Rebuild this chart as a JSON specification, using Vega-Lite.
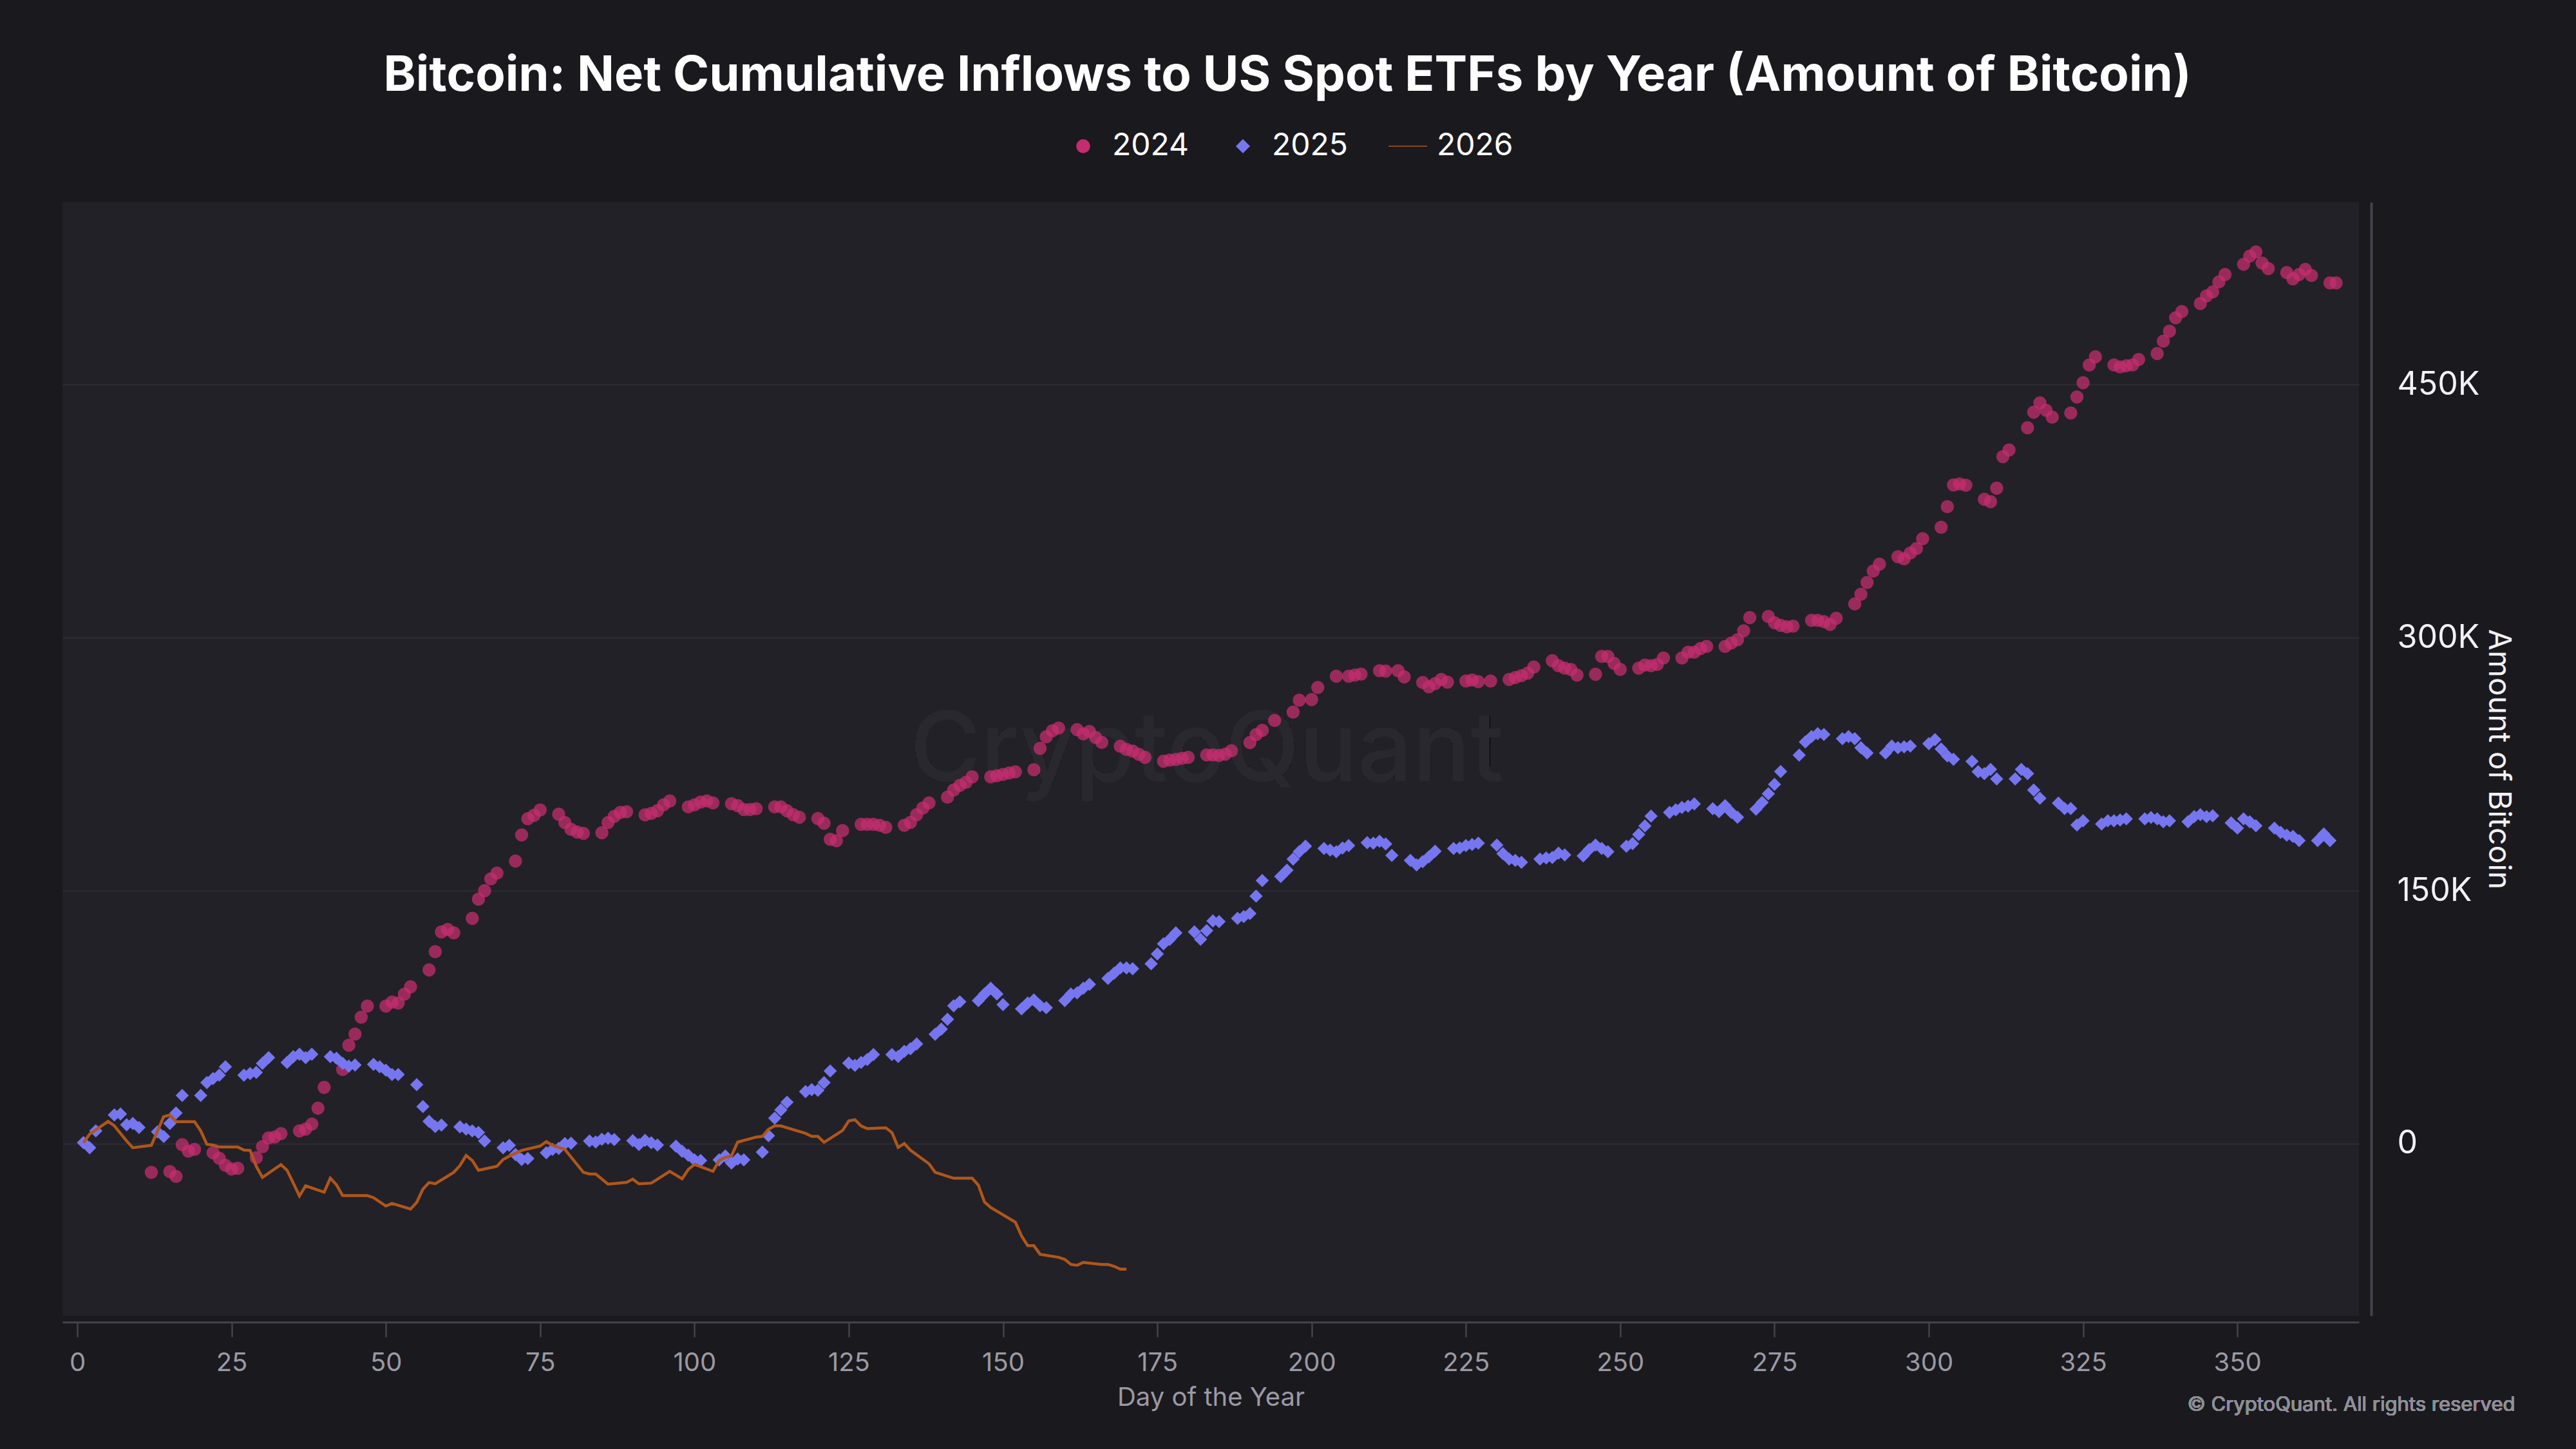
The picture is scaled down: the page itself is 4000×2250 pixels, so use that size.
{
  "$schema": "https://vega.github.io/schema/vega-lite/v6.json",
  "description": "Bitcoin net cumulative inflows to US spot ETFs, by day of year, for 2024, 2025 and 2026",
  "width": 3566,
  "height": 1729,
  "autosize": {"type": "none"},
  "padding": {"left": 97, "top": 314, "right": 337, "bottom": 207},
  "background": "#1a191e",
  "title": {
    "text": "Bitcoin: Net Cumulative Inflows to US Spot ETFs by Year (Amount of Bitcoin)",
    "anchor": "middle",
    "font": "Inter",
    "fontSize": 76,
    "fontWeight": 700,
    "color": "#ffffff",
    "offset": 46,
    "dx": 119
  },
  "data": {
    "values": [
      {"day":12,"year":"2024","btc":-17000},{"day":15,"year":"2024","btc":-16600},{"day":16,"year":"2024","btc":-19400},{"day":17,"year":"2024","btc":-600},{"day":18,"year":"2024","btc":-4400},{"day":19,"year":"2024","btc":-3400},{"day":22,"year":"2024","btc":-5400},{"day":23,"year":"2024","btc":-8600},{"day":24,"year":"2024","btc":-12800},{"day":25,"year":"2024","btc":-15000},{"day":26,"year":"2024","btc":-14600},{"day":29,"year":"2024","btc":-8400},{"day":30,"year":"2024","btc":-1800},{"day":31,"year":"2024","btc":3400},{"day":32,"year":"2024","btc":4000},{"day":33,"year":"2024","btc":6000},{"day":36,"year":"2024","btc":7600},{"day":37,"year":"2024","btc":8600},{"day":38,"year":"2024","btc":11600},{"day":39,"year":"2024","btc":21000},{"day":40,"year":"2024","btc":33400},{"day":43,"year":"2024","btc":44000},{"day":44,"year":"2024","btc":58400},{"day":45,"year":"2024","btc":65000},{"day":46,"year":"2024","btc":75000},{"day":47,"year":"2024","btc":81600},{"day":50,"year":"2024","btc":81600},{"day":51,"year":"2024","btc":84000},{"day":52,"year":"2024","btc":83400},{"day":53,"year":"2024","btc":88600},{"day":54,"year":"2024","btc":93000},{"day":57,"year":"2024","btc":103000},{"day":58,"year":"2024","btc":113800},{"day":59,"year":"2024","btc":125600},{"day":60,"year":"2024","btc":127000},{"day":61,"year":"2024","btc":125000},{"day":64,"year":"2024","btc":133600},{"day":65,"year":"2024","btc":145000},{"day":66,"year":"2024","btc":150000},{"day":67,"year":"2024","btc":157000},{"day":68,"year":"2024","btc":160400},{"day":71,"year":"2024","btc":167600},{"day":72,"year":"2024","btc":183000},{"day":73,"year":"2024","btc":192700},{"day":74,"year":"2024","btc":194700},{"day":75,"year":"2024","btc":197800},{"day":78,"year":"2024","btc":195400},{"day":79,"year":"2024","btc":190400},{"day":80,"year":"2024","btc":186400},{"day":81,"year":"2024","btc":184800},{"day":82,"year":"2024","btc":184000},{"day":85,"year":"2024","btc":184400},{"day":86,"year":"2024","btc":190400},{"day":87,"year":"2024","btc":194000},{"day":88,"year":"2024","btc":196400},{"day":89,"year":"2024","btc":196800},{"day":92,"year":"2024","btc":195000},{"day":93,"year":"2024","btc":195800},{"day":94,"year":"2024","btc":197400},{"day":95,"year":"2024","btc":200900},{"day":96,"year":"2024","btc":203200},{"day":99,"year":"2024","btc":199700},{"day":100,"year":"2024","btc":200900},{"day":101,"year":"2024","btc":202500},{"day":102,"year":"2024","btc":203200},{"day":103,"year":"2024","btc":202000},{"day":106,"year":"2024","btc":201600},{"day":107,"year":"2024","btc":200400},{"day":108,"year":"2024","btc":198100},{"day":109,"year":"2024","btc":198100},{"day":110,"year":"2024","btc":198600},{"day":113,"year":"2024","btc":199700},{"day":114,"year":"2024","btc":199700},{"day":115,"year":"2024","btc":197400},{"day":116,"year":"2024","btc":195100},{"day":117,"year":"2024","btc":193500},{"day":120,"year":"2024","btc":192800},{"day":121,"year":"2024","btc":190000},{"day":122,"year":"2024","btc":180500},{"day":123,"year":"2024","btc":179600},{"day":124,"year":"2024","btc":185600},{"day":127,"year":"2024","btc":189300},{"day":128,"year":"2024","btc":189300},{"day":129,"year":"2024","btc":189300},{"day":130,"year":"2024","btc":188800},{"day":131,"year":"2024","btc":187500},{"day":134,"year":"2024","btc":188800},{"day":135,"year":"2024","btc":190500},{"day":136,"year":"2024","btc":195100},{"day":137,"year":"2024","btc":199000},{"day":138,"year":"2024","btc":202000},{"day":141,"year":"2024","btc":205500},{"day":142,"year":"2024","btc":209700},{"day":143,"year":"2024","btc":212400},{"day":144,"year":"2024","btc":214300},{"day":145,"year":"2024","btc":217500},{"day":148,"year":"2024","btc":217500},{"day":149,"year":"2024","btc":218200},{"day":150,"year":"2024","btc":218900},{"day":151,"year":"2024","btc":219800},{"day":152,"year":"2024","btc":220500},{"day":155,"year":"2024","btc":221700},{"day":156,"year":"2024","btc":234400},{"day":157,"year":"2024","btc":241300},{"day":158,"year":"2024","btc":244800},{"day":159,"year":"2024","btc":246400},{"day":162,"year":"2024","btc":245500},{"day":163,"year":"2024","btc":243000},{"day":164,"year":"2024","btc":244400},{"day":165,"year":"2024","btc":240900},{"day":166,"year":"2024","btc":237900},{"day":169,"year":"2024","btc":235600},{"day":170,"year":"2024","btc":233700},{"day":171,"year":"2024","btc":232800},{"day":172,"year":"2024","btc":230900},{"day":173,"year":"2024","btc":229100},{"day":176,"year":"2024","btc":226800},{"day":177,"year":"2024","btc":227400},{"day":178,"year":"2024","btc":227800},{"day":179,"year":"2024","btc":228500},{"day":180,"year":"2024","btc":229100},{"day":183,"year":"2024","btc":230500},{"day":184,"year":"2024","btc":230500},{"day":185,"year":"2024","btc":230200},{"day":186,"year":"2024","btc":231000},{"day":187,"year":"2024","btc":233000},{"day":190,"year":"2024","btc":237800},{"day":191,"year":"2024","btc":242500},{"day":192,"year":"2024","btc":245100},{"day":194,"year":"2024","btc":250900},{"day":197,"year":"2024","btc":255900},{"day":198,"year":"2024","btc":262900},{"day":200,"year":"2024","btc":263300},{"day":201,"year":"2024","btc":270500},{"day":204,"year":"2024","btc":277200},{"day":206,"year":"2024","btc":277200},{"day":207,"year":"2024","btc":277800},{"day":208,"year":"2024","btc":278400},{"day":211,"year":"2024","btc":280400},{"day":212,"year":"2024","btc":280200},{"day":214,"year":"2024","btc":280400},{"day":215,"year":"2024","btc":276800},{"day":218,"year":"2024","btc":273400},{"day":219,"year":"2024","btc":270900},{"day":220,"year":"2024","btc":272800},{"day":221,"year":"2024","btc":275300},{"day":222,"year":"2024","btc":273600},{"day":225,"year":"2024","btc":274300},{"day":226,"year":"2024","btc":274900},{"day":227,"year":"2024","btc":273900},{"day":229,"year":"2024","btc":274300},{"day":232,"year":"2024","btc":275300},{"day":233,"year":"2024","btc":276400},{"day":234,"year":"2024","btc":277500},{"day":235,"year":"2024","btc":279000},{"day":236,"year":"2024","btc":282600},{"day":239,"year":"2024","btc":286300},{"day":240,"year":"2024","btc":283400},{"day":241,"year":"2024","btc":281900},{"day":242,"year":"2024","btc":281200},{"day":243,"year":"2024","btc":277800},{"day":246,"year":"2024","btc":278300},{"day":247,"year":"2024","btc":288900},{"day":248,"year":"2024","btc":288900},{"day":249,"year":"2024","btc":284800},{"day":250,"year":"2024","btc":281200},{"day":253,"year":"2024","btc":281900},{"day":254,"year":"2024","btc":283800},{"day":255,"year":"2024","btc":283400},{"day":256,"year":"2024","btc":284100},{"day":257,"year":"2024","btc":288000},{"day":260,"year":"2024","btc":288000},{"day":261,"year":"2024","btc":291400},{"day":262,"year":"2024","btc":291400},{"day":263,"year":"2024","btc":293600},{"day":264,"year":"2024","btc":294800},{"day":267,"year":"2024","btc":294800},{"day":268,"year":"2024","btc":296800},{"day":269,"year":"2024","btc":298700},{"day":270,"year":"2024","btc":304100},{"day":271,"year":"2024","btc":311900},{"day":274,"year":"2024","btc":312600},{"day":275,"year":"2024","btc":308900},{"day":276,"year":"2024","btc":307300},{"day":277,"year":"2024","btc":306500},{"day":278,"year":"2024","btc":306900},{"day":281,"year":"2024","btc":310300},{"day":282,"year":"2024","btc":310300},{"day":283,"year":"2024","btc":309500},{"day":284,"year":"2024","btc":307800},{"day":285,"year":"2024","btc":311500},{"day":288,"year":"2024","btc":320000},{"day":289,"year":"2024","btc":325800},{"day":290,"year":"2024","btc":332700},{"day":291,"year":"2024","btc":339500},{"day":292,"year":"2024","btc":343600},{"day":295,"year":"2024","btc":348000},{"day":296,"year":"2024","btc":346800},{"day":297,"year":"2024","btc":350200},{"day":298,"year":"2024","btc":352900},{"day":299,"year":"2024","btc":358700},{"day":302,"year":"2024","btc":365500},{"day":303,"year":"2024","btc":377700},{"day":304,"year":"2024","btc":390600},{"day":305,"year":"2024","btc":391100},{"day":306,"year":"2024","btc":390400},{"day":309,"year":"2024","btc":382100},{"day":310,"year":"2024","btc":380600},{"day":311,"year":"2024","btc":388700},{"day":312,"year":"2024","btc":407400},{"day":313,"year":"2024","btc":411300},{"day":316,"year":"2024","btc":424500},{"day":317,"year":"2024","btc":433700},{"day":318,"year":"2024","btc":439300},{"day":319,"year":"2024","btc":434900},{"day":320,"year":"2024","btc":430800},{"day":323,"year":"2024","btc":433200},{"day":324,"year":"2024","btc":442700},{"day":325,"year":"2024","btc":451200},{"day":326,"year":"2024","btc":461700},{"day":327,"year":"2024","btc":466600},{"day":330,"year":"2024","btc":461700},{"day":331,"year":"2024","btc":460500},{"day":332,"year":"2024","btc":461200},{"day":333,"year":"2024","btc":461700},{"day":334,"year":"2024","btc":464900},{"day":337,"year":"2024","btc":468500},{"day":338,"year":"2024","btc":475800},{"day":339,"year":"2024","btc":481700},{"day":340,"year":"2024","btc":489700},{"day":341,"year":"2024","btc":493400},{"day":344,"year":"2024","btc":498200},{"day":345,"year":"2024","btc":502600},{"day":346,"year":"2024","btc":505000},{"day":347,"year":"2024","btc":510900},{"day":348,"year":"2024","btc":515300},{"day":351,"year":"2024","btc":521400},{"day":352,"year":"2024","btc":526200},{"day":353,"year":"2024","btc":528700},{"day":354,"year":"2024","btc":522100},{"day":355,"year":"2024","btc":518900},{"day":358,"year":"2024","btc":516500},{"day":359,"year":"2024","btc":512800},{"day":360,"year":"2024","btc":515300},{"day":361,"year":"2024","btc":518400},{"day":362,"year":"2024","btc":514800},{"day":365,"year":"2024","btc":510400},{"day":366,"year":"2024","btc":510400},
      {"day":1,"year":"2025","btc":600},{"day":2,"year":"2025","btc":-2400},{"day":3,"year":"2025","btc":7600},{"day":6,"year":"2025","btc":17000},{"day":7,"year":"2025","btc":17600},{"day":8,"year":"2025","btc":11200},{"day":9,"year":"2025","btc":12000},{"day":10,"year":"2025","btc":9600},{"day":13,"year":"2025","btc":7000},{"day":14,"year":"2025","btc":4200},{"day":15,"year":"2025","btc":12000},{"day":16,"year":"2025","btc":18200},{"day":17,"year":"2025","btc":28600},{"day":20,"year":"2025","btc":28600},{"day":21,"year":"2025","btc":36200},{"day":22,"year":"2025","btc":38600},{"day":23,"year":"2025","btc":40600},{"day":24,"year":"2025","btc":45600},{"day":27,"year":"2025","btc":40600},{"day":28,"year":"2025","btc":41600},{"day":29,"year":"2025","btc":42200},{"day":30,"year":"2025","btc":47600},{"day":31,"year":"2025","btc":51000},{"day":34,"year":"2025","btc":48200},{"day":35,"year":"2025","btc":51600},{"day":36,"year":"2025","btc":53000},{"day":37,"year":"2025","btc":51000},{"day":38,"year":"2025","btc":53000},{"day":41,"year":"2025","btc":51600},{"day":42,"year":"2025","btc":50600},{"day":43,"year":"2025","btc":47600},{"day":44,"year":"2025","btc":46000},{"day":45,"year":"2025","btc":46600},{"day":48,"year":"2025","btc":47000},{"day":49,"year":"2025","btc":45600},{"day":50,"year":"2025","btc":43600},{"day":51,"year":"2025","btc":41000},{"day":52,"year":"2025","btc":41000},{"day":55,"year":"2025","btc":35000},{"day":56,"year":"2025","btc":22000},{"day":57,"year":"2025","btc":13200},{"day":58,"year":"2025","btc":10200},{"day":59,"year":"2025","btc":11000},{"day":62,"year":"2025","btc":10000},{"day":63,"year":"2025","btc":8600},{"day":64,"year":"2025","btc":7600},{"day":65,"year":"2025","btc":6600},{"day":66,"year":"2025","btc":1600},{"day":69,"year":"2025","btc":-2400},{"day":70,"year":"2025","btc":-1000},{"day":71,"year":"2025","btc":-6400},{"day":72,"year":"2025","btc":-9400},{"day":73,"year":"2025","btc":-8800},{"day":76,"year":"2025","btc":-5400},{"day":77,"year":"2025","btc":-3400},{"day":78,"year":"2025","btc":-2800},{"day":79,"year":"2025","btc":0},{"day":80,"year":"2025","btc":200},{"day":83,"year":"2025","btc":1600},{"day":84,"year":"2025","btc":1000},{"day":85,"year":"2025","btc":2600},{"day":86,"year":"2025","btc":3200},{"day":87,"year":"2025","btc":2400},{"day":90,"year":"2025","btc":1800},{"day":91,"year":"2025","btc":-500},{"day":92,"year":"2025","btc":2000},{"day":93,"year":"2025","btc":500},{"day":94,"year":"2025","btc":-800},{"day":97,"year":"2025","btc":-1500},{"day":98,"year":"2025","btc":-4500},{"day":99,"year":"2025","btc":-6800},{"day":100,"year":"2025","btc":-9600},{"day":101,"year":"2025","btc":-10000},{"day":104,"year":"2025","btc":-9600},{"day":105,"year":"2025","btc":-7300},{"day":106,"year":"2025","btc":-11500},{"day":107,"year":"2025","btc":-9100},{"day":108,"year":"2025","btc":-9600},{"day":111,"year":"2025","btc":-5000},{"day":112,"year":"2025","btc":4700},{"day":113,"year":"2025","btc":15100},{"day":114,"year":"2025","btc":20000},{"day":115,"year":"2025","btc":24600},{"day":118,"year":"2025","btc":30900},{"day":119,"year":"2025","btc":32000},{"day":120,"year":"2025","btc":31600},{"day":121,"year":"2025","btc":36200},{"day":122,"year":"2025","btc":43100},{"day":125,"year":"2025","btc":47800},{"day":126,"year":"2025","btc":46400},{"day":127,"year":"2025","btc":48200},{"day":128,"year":"2025","btc":49900},{"day":129,"year":"2025","btc":52800},{"day":132,"year":"2025","btc":52800},{"day":133,"year":"2025","btc":51700},{"day":134,"year":"2025","btc":54700},{"day":135,"year":"2025","btc":56300},{"day":136,"year":"2025","btc":59100},{"day":139,"year":"2025","btc":64900},{"day":140,"year":"2025","btc":67900},{"day":141,"year":"2025","btc":73700},{"day":142,"year":"2025","btc":81800},{"day":143,"year":"2025","btc":84100},{"day":146,"year":"2025","btc":84800},{"day":147,"year":"2025","btc":88700},{"day":148,"year":"2025","btc":92200},{"day":149,"year":"2025","btc":88700},{"day":150,"year":"2025","btc":82400},{"day":153,"year":"2025","btc":79900},{"day":154,"year":"2025","btc":83400},{"day":155,"year":"2025","btc":85200},{"day":156,"year":"2025","btc":81800},{"day":157,"year":"2025","btc":80600},{"day":160,"year":"2025","btc":84800},{"day":161,"year":"2025","btc":88700},{"day":162,"year":"2025","btc":89400},{"day":163,"year":"2025","btc":92200},{"day":164,"year":"2025","btc":94500},{"day":167,"year":"2025","btc":98000},{"day":168,"year":"2025","btc":101000},{"day":169,"year":"2025","btc":104200},{"day":170,"year":"2025","btc":104200},{"day":171,"year":"2025","btc":103700},{"day":174,"year":"2025","btc":106700},{"day":175,"year":"2025","btc":112500},{"day":176,"year":"2025","btc":118500},{"day":177,"year":"2025","btc":121100},{"day":178,"year":"2025","btc":125000},{"day":181,"year":"2025","btc":125600},{"day":182,"year":"2025","btc":121200},{"day":183,"year":"2025","btc":126300},{"day":184,"year":"2025","btc":132100},{"day":185,"year":"2025","btc":131700},{"day":188,"year":"2025","btc":133600},{"day":189,"year":"2025","btc":134600},{"day":190,"year":"2025","btc":136500},{"day":191,"year":"2025","btc":146800},{"day":192,"year":"2025","btc":156000},{"day":195,"year":"2025","btc":158400},{"day":196,"year":"2025","btc":162100},{"day":197,"year":"2025","btc":168700},{"day":198,"year":"2025","btc":173100},{"day":199,"year":"2025","btc":176400},{"day":202,"year":"2025","btc":175000},{"day":203,"year":"2025","btc":174100},{"day":204,"year":"2025","btc":173100},{"day":205,"year":"2025","btc":175300},{"day":206,"year":"2025","btc":176700},{"day":209,"year":"2025","btc":178500},{"day":210,"year":"2025","btc":178200},{"day":211,"year":"2025","btc":179300},{"day":212,"year":"2025","btc":177700},{"day":213,"year":"2025","btc":170900},{"day":216,"year":"2025","btc":168000},{"day":217,"year":"2025","btc":165300},{"day":218,"year":"2025","btc":167200},{"day":219,"year":"2025","btc":170100},{"day":220,"year":"2025","btc":173400},{"day":223,"year":"2025","btc":175000},{"day":224,"year":"2025","btc":175300},{"day":225,"year":"2025","btc":176700},{"day":226,"year":"2025","btc":177400},{"day":227,"year":"2025","btc":178200},{"day":230,"year":"2025","btc":177000},{"day":231,"year":"2025","btc":172000},{"day":232,"year":"2025","btc":168700},{"day":233,"year":"2025","btc":168000},{"day":234,"year":"2025","btc":166800},{"day":237,"year":"2025","btc":168700},{"day":238,"year":"2025","btc":169400},{"day":239,"year":"2025","btc":169700},{"day":240,"year":"2025","btc":172300},{"day":241,"year":"2025","btc":171200},{"day":244,"year":"2025","btc":170600},{"day":245,"year":"2025","btc":174500},{"day":246,"year":"2025","btc":177000},{"day":247,"year":"2025","btc":175000},{"day":248,"year":"2025","btc":173100},{"day":251,"year":"2025","btc":176400},{"day":252,"year":"2025","btc":177900},{"day":253,"year":"2025","btc":183300},{"day":254,"year":"2025","btc":188400},{"day":255,"year":"2025","btc":194200},{"day":258,"year":"2025","btc":196400},{"day":259,"year":"2025","btc":197900},{"day":260,"year":"2025","btc":199400},{"day":261,"year":"2025","btc":200100},{"day":262,"year":"2025","btc":201500},{"day":265,"year":"2025","btc":198600},{"day":266,"year":"2025","btc":196900},{"day":267,"year":"2025","btc":200400},{"day":268,"year":"2025","btc":196400},{"day":269,"year":"2025","btc":193500},{"day":272,"year":"2025","btc":198300},{"day":273,"year":"2025","btc":202300},{"day":274,"year":"2025","btc":207500},{"day":275,"year":"2025","btc":213000},{"day":276,"year":"2025","btc":220700},{"day":279,"year":"2025","btc":230400},{"day":280,"year":"2025","btc":238200},{"day":281,"year":"2025","btc":241400},{"day":282,"year":"2025","btc":243100},{"day":283,"year":"2025","btc":242600},{"day":286,"year":"2025","btc":240100},{"day":287,"year":"2025","btc":241400},{"day":288,"year":"2025","btc":240100},{"day":289,"year":"2025","btc":234800},{"day":290,"year":"2025","btc":231600},{"day":293,"year":"2025","btc":231600},{"day":294,"year":"2025","btc":235700},{"day":295,"year":"2025","btc":234800},{"day":296,"year":"2025","btc":235300},{"day":297,"year":"2025","btc":235700},{"day":300,"year":"2025","btc":237200},{"day":301,"year":"2025","btc":239600},{"day":302,"year":"2025","btc":234000},{"day":303,"year":"2025","btc":229900},{"day":304,"year":"2025","btc":227900},{"day":307,"year":"2025","btc":226700},{"day":308,"year":"2025","btc":220600},{"day":309,"year":"2025","btc":219400},{"day":310,"year":"2025","btc":221900},{"day":311,"year":"2025","btc":216300},{"day":314,"year":"2025","btc":216300},{"day":315,"year":"2025","btc":221900},{"day":316,"year":"2025","btc":219400},{"day":317,"year":"2025","btc":209700},{"day":318,"year":"2025","btc":204800},{"day":321,"year":"2025","btc":201900},{"day":322,"year":"2025","btc":198700},{"day":323,"year":"2025","btc":198700},{"day":324,"year":"2025","btc":189000},{"day":325,"year":"2025","btc":191400},{"day":328,"year":"2025","btc":189500},{"day":329,"year":"2025","btc":191400},{"day":330,"year":"2025","btc":191400},{"day":331,"year":"2025","btc":191900},{"day":332,"year":"2025","btc":192600},{"day":335,"year":"2025","btc":192600},{"day":336,"year":"2025","btc":193400},{"day":337,"year":"2025","btc":192600},{"day":338,"year":"2025","btc":190900},{"day":339,"year":"2025","btc":191400},{"day":342,"year":"2025","btc":190900},{"day":343,"year":"2025","btc":193900},{"day":344,"year":"2025","btc":195100},{"day":345,"year":"2025","btc":193900},{"day":346,"year":"2025","btc":194400},{"day":349,"year":"2025","btc":190200},{"day":350,"year":"2025","btc":187100},{"day":351,"year":"2025","btc":192600},{"day":352,"year":"2025","btc":190900},{"day":353,"year":"2025","btc":188500},{"day":356,"year":"2025","btc":187100},{"day":357,"year":"2025","btc":184600},{"day":358,"year":"2025","btc":182900},{"day":359,"year":"2025","btc":182200},{"day":360,"year":"2025","btc":179700},{"day":363,"year":"2025","btc":179700},{"day":364,"year":"2025","btc":183600},{"day":365,"year":"2025","btc":179700},
      {"day":1,"year":"2026","btc":600},{"day":2,"year":"2026","btc":5600},{"day":5,"year":"2026","btc":13200},{"day":6,"year":"2026","btc":10600},{"day":8,"year":"2026","btc":1600},{"day":9,"year":"2026","btc":-2400},{"day":12,"year":"2026","btc":-1000},{"day":14,"year":"2026","btc":16000},{"day":15,"year":"2026","btc":17000},{"day":16,"year":"2026","btc":13000},{"day":19,"year":"2026","btc":13000},{"day":20,"year":"2026","btc":7600},{"day":21,"year":"2026","btc":-400},{"day":22,"year":"2026","btc":-800},{"day":23,"year":"2026","btc":-2000},{"day":26,"year":"2026","btc":-2000},{"day":27,"year":"2026","btc":-3800},{"day":28,"year":"2026","btc":-4000},{"day":29,"year":"2026","btc":-13400},{"day":30,"year":"2026","btc":-20000},{"day":33,"year":"2026","btc":-12400},{"day":34,"year":"2026","btc":-15800},{"day":36,"year":"2026","btc":-31000},{"day":37,"year":"2026","btc":-25000},{"day":40,"year":"2026","btc":-28800},{"day":41,"year":"2026","btc":-20400},{"day":42,"year":"2026","btc":-24400},{"day":43,"year":"2026","btc":-30800},{"day":47,"year":"2026","btc":-30800},{"day":48,"year":"2026","btc":-32000},{"day":50,"year":"2026","btc":-37000},{"day":51,"year":"2026","btc":-35400},{"day":54,"year":"2026","btc":-38800},{"day":55,"year":"2026","btc":-34800},{"day":56,"year":"2026","btc":-27000},{"day":57,"year":"2026","btc":-23000},{"day":58,"year":"2026","btc":-23800},{"day":61,"year":"2026","btc":-17000},{"day":62,"year":"2026","btc":-13000},{"day":63,"year":"2026","btc":-7000},{"day":64,"year":"2026","btc":-10000},{"day":65,"year":"2026","btc":-15800},{"day":68,"year":"2026","btc":-13400},{"day":69,"year":"2026","btc":-9400},{"day":70,"year":"2026","btc":-7400},{"day":72,"year":"2026","btc":-4000},{"day":75,"year":"2026","btc":-1400},{"day":76,"year":"2026","btc":1200},{"day":77,"year":"2026","btc":-1000},{"day":79,"year":"2026","btc":-3400},{"day":82,"year":"2026","btc":-17000},{"day":83,"year":"2026","btc":-18000},{"day":84,"year":"2026","btc":-18000},{"day":86,"year":"2026","btc":-24000},{"day":89,"year":"2026","btc":-23000},{"day":90,"year":"2026","btc":-21000},{"day":91,"year":"2026","btc":-23800},{"day":93,"year":"2026","btc":-23400},{"day":96,"year":"2026","btc":-16400},{"day":98,"year":"2026","btc":-20800},{"day":99,"year":"2026","btc":-15300},{"day":100,"year":"2026","btc":-12300},{"day":103,"year":"2026","btc":-16400},{"day":104,"year":"2026","btc":-10000},{"day":105,"year":"2026","btc":-8100},{"day":106,"year":"2026","btc":-7200},{"day":107,"year":"2026","btc":900},{"day":110,"year":"2026","btc":3900},{"day":111,"year":"2026","btc":4300},{"day":112,"year":"2026","btc":8500},{"day":113,"year":"2026","btc":10500},{"day":114,"year":"2026","btc":10500},{"day":118,"year":"2026","btc":6100},{"day":119,"year":"2026","btc":4300},{"day":120,"year":"2026","btc":4300},{"day":121,"year":"2026","btc":800},{"day":124,"year":"2026","btc":7800},{"day":125,"year":"2026","btc":13500},{"day":126,"year":"2026","btc":14200},{"day":127,"year":"2026","btc":10500},{"day":128,"year":"2026","btc":8900},{"day":131,"year":"2026","btc":9400},{"day":132,"year":"2026","btc":6600},{"day":133,"year":"2026","btc":-2200},{"day":134,"year":"2026","btc":100},{"day":135,"year":"2026","btc":-3900},{"day":138,"year":"2026","btc":-11900},{"day":139,"year":"2026","btc":-17000},{"day":142,"year":"2026","btc":-20500},{"day":145,"year":"2026","btc":-20500},{"day":146,"year":"2026","btc":-24600},{"day":147,"year":"2026","btc":-34600},{"day":148,"year":"2026","btc":-37800},{"day":152,"year":"2026","btc":-46600},{"day":153,"year":"2026","btc":-54700},{"day":154,"year":"2026","btc":-60500},{"day":155,"year":"2026","btc":-60500},{"day":156,"year":"2026","btc":-65600},{"day":159,"year":"2026","btc":-67400},{"day":160,"year":"2026","btc":-68600},{"day":161,"year":"2026","btc":-71600},{"day":162,"year":"2026","btc":-72100},{"day":163,"year":"2026","btc":-70400},{"day":166,"year":"2026","btc":-71600},{"day":167,"year":"2026","btc":-71600},{"day":168,"year":"2026","btc":-72700},{"day":169,"year":"2026","btc":-74400},{"day":170,"year":"2026","btc":-74400}
    ]
  },
  "encoding": {
    "x": {
      "field": "day",
      "type": "quantitative",
      "scale": {"domain": [-2.4, 369.7], "nice": false, "zero": false},
      "axis": {
        "orient": "bottom",
        "offset": 10,
        "values": [0, 25, 50, 75, 100, 125, 150, 175, 200, 225, 250, 275, 300, 325, 350],
        "grid": false,
        "domainColor": "#44434d",
        "domainWidth": 3,
        "tickColor": "#44434d",
        "tickWidth": 2.5,
        "tickSize": 23,
        "labelFont": "Inter",
        "labelFontSize": 40,
        "labelColor": "#9b9aa4",
        "labelPadding": 20,
        "title": "Day of the Year",
        "titleFont": "Inter",
        "titleFontSize": 40,
        "titleFontWeight": "normal",
        "titleColor": "#9b9aa4",
        "titlePadding": 14
      }
    },
    "y": {
      "field": "btc",
      "type": "quantitative",
      "scale": {"domain": [-102000, 558200], "nice": false, "zero": false},
      "axis": {
        "orient": "right",
        "offset": 19,
        "values": [0, 150000, 300000, 450000],
        "labelExpr": "datum.value == 0 ? '0' : format(datum.value / 1000, 'd') + 'K'",
        "grid": true,
        "gridColor": "#2d2c33",
        "gridWidth": 2,
        "ticks": false,
        "domainColor": "#44434d",
        "domainWidth": 4,
        "labelFont": "Inter",
        "labelFontSize": 50,
        "labelColor": "#f2f2f4",
        "labelPadding": 40,
        "title": "Amount of Bitcoin",
        "titleAngle": 90,
        "titleFont": "Inter",
        "titleFontSize": 48,
        "titleFontWeight": "normal",
        "titleColor": "#f2f2f4",
        "titlePadding": 5
      }
    }
  },
  "layer": [
    {
      "mark": {"type": "text", "text": "CryptoQuant", "font": "Inter", "fontSize": 150, "fontWeight": 500, "fill": "#29282e", "align": "center", "baseline": "middle"},
      "encoding": {"x": {"datum": 183}, "y": {"datum": 232000}}
    },
    {
      "transform": [{"filter": "datum.year != '2026'"}],
      "mark": {"type": "point", "filled": true, "size": 420},
      "encoding": {
        "color": {
          "field": "year",
          "type": "nominal",
          "scale": {"domain": ["2024", "2025", "2026"], "range": ["#c42d6f", "#7676f0", "#b0561a"]},
          "legend": {
            "title": null,
            "orient": "none",
            "legendX": 1561,
            "legendY": -111,
            "direction": "horizontal",
            "encode": {
              "symbols": {
                "update": {
                  "stroke": {"scale": "color", "field": "value"},
                  "strokeWidth": {"signal": "datum.value == '2026' ? 5 : 0"},
                  "opacity": {"signal": "datum.value == '2024' ? 0.75 : 1"}
                }
              }
            }
          }
        },
        "shape": {
          "field": "year",
          "type": "nominal",
          "scale": {"domain": ["2024", "2025", "2026"], "range": ["circle", "diamond", "M-3,0L3,0"]},
          "legend": {"title": null, "orient": "none", "legendX": 1561, "legendY": -111, "direction": "horizontal"}
        },
        "opacity": {"condition": {"test": "datum.year == '2024'", "value": 0.75}, "value": 1}
      }
    },
    {
      "transform": [{"filter": "datum.year == '2026'"}],
      "mark": {"type": "line", "strokeWidth": 4.5},
      "encoding": {
        "color": {"field": "year", "type": "nominal"}
      }
    },
    {
      "mark": {"type": "text", "text": "© CryptoQuant. All rights reserved", "font": "Inter", "fontSize": 31, "color": "#8f8e98", "align": "right", "baseline": "middle"},
      "encoding": {"x": {"datum": 395}, "y": {"datum": -155000}}
    }
  ],
  "config": {
    "view": {"fill": "#222127", "stroke": null},
    "font": "Inter",
    "legend": {
      "padding": 0,
      "labelFont": "Inter",
      "labelFontSize": 48,
      "labelColor": "#ffffff",
      "labelOffset": 21,
      "columnPadding": 59,
      "symbolSize": 400
    }
  }
}
